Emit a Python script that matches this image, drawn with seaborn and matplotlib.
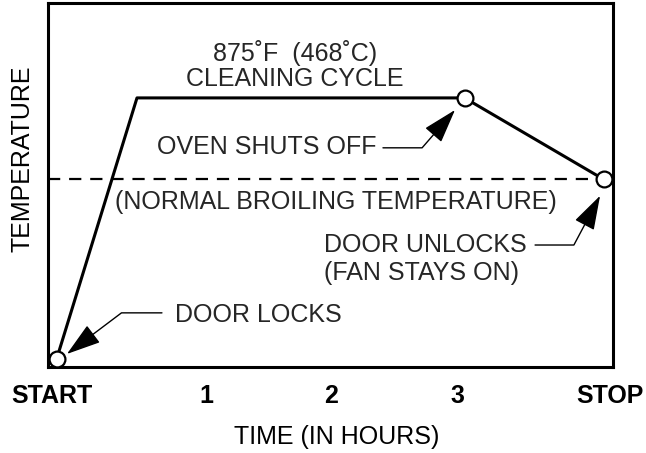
import matplotlib
matplotlib.use("Agg")
import matplotlib.pyplot as plt
import seaborn as sns
import pandas as pd

# ---- data (time in hours, temperature in deg F) ----
profile_time = [-0.19, 0.45, 3.06, 4.17]
profile_temp = [75, 875, 875, 625]
event_time = [-0.19, 3.06, 4.17]
event_temp = [75, 875, 625]
broil_temp = 625
tick_positions = [-0.23, 1, 2, 3, 4.22]
tick_labels = ["START", "1", "2", "3", "STOP"]
x_limits = [-0.259, 4.243]
y_limits = [50, 1166]

sns.set_theme(style="white")
plt.rcParams["font.family"] = ["Liberation Sans", "DejaVu Sans"]

fig = plt.figure(figsize=(6.46, 4.53), dpi=100)
ax = fig.add_subplot(111)
fig.subplots_adjust(left=48/646, right=613/646, top=1-3/453, bottom=1-367/453)

prof = pd.DataFrame({"time": profile_time, "temp": profile_temp})
ev = pd.DataFrame({"time": event_time, "temp": event_temp})

# dashed broil line
ax.plot([x_limits[0], event_time[-1]], [broil_temp, broil_temp], color="black",
        lw=1.6, linestyle=(0, (5.5, 4.0)), zorder=2)

sns.lineplot(data=prof, x="time", y="temp", ax=ax, color="black", lw=2.2,
             sort=False, zorder=3)
sns.scatterplot(data=ev, x="time", y="temp", ax=ax, s=130, facecolor="white",
                edgecolor="black", linewidth=1.6, zorder=5, clip_on=False)

fs = 18
ax.set_xlim(*x_limits)
ax.set_ylim(*y_limits)
ax.set_yticks([])
ax.set_xticks(tick_positions)
ax.set_xticklabels(tick_labels, fontsize=fs, fontweight="bold")
ax.tick_params(axis="x", length=0, pad=12, colors="black")

for s in ax.spines.values():
    s.set_linewidth(2.2)
    s.set_color("black")

ax.set_xlabel("TIME (IN HOURS)", fontsize=fs, va="center", color="black")
ax.xaxis.set_label_coords((337-48)/565, (367-437)/364)
ax.set_ylabel("TEMPERATURE", fontsize=fs, va="center", color="black")
ax.yaxis.set_label_coords((23-48)/565, (367-159)/364)

ax.text(1.709, 1013, "875˚F  (468˚C)", fontsize=fs, ha="center", va="center")
ax.text(1.709, 933, "CLEANING CYCLE", fontsize=fs, ha="center", va="center")
ax.text(2.355, 725, "OVEN SHUTS OFF", fontsize=fs, ha="right", va="center")
ax.text(2.036, 556, "(NORMAL BROILING TEMPERATURE)", fontsize=fs, ha="center", va="center")
ax.text(1.940, 424, "DOOR UNLOCKS", fontsize=fs, ha="left", va="center")
ax.text(1.940, 339, "(FAN STAYS ON)", fontsize=fs, ha="left", va="center")
ax.text(0.753, 210, "DOOR LOCKS", fontsize=fs, ha="left", va="center")

arrow_style = "-|>,head_length=1.08,head_width=0.34"
def leader(tail, tip, angleB):
    ax.annotate("", xy=tip, xytext=tail,
                arrowprops=dict(arrowstyle=arrow_style, mutation_scale=20,
                                connectionstyle=f"angle,angleA=0,angleB={angleB},rad=0",
                                color="black", lw=1.0, shrinkA=0, shrinkB=0),
                zorder=4)

leader((2.41, 722), (2.984, 838), 49)
leader((3.622, 424), (4.14, 575), 62)
leader((0.649, 216), (-0.108, 90), 37)

fig.savefig("out.png", dpi=100)
